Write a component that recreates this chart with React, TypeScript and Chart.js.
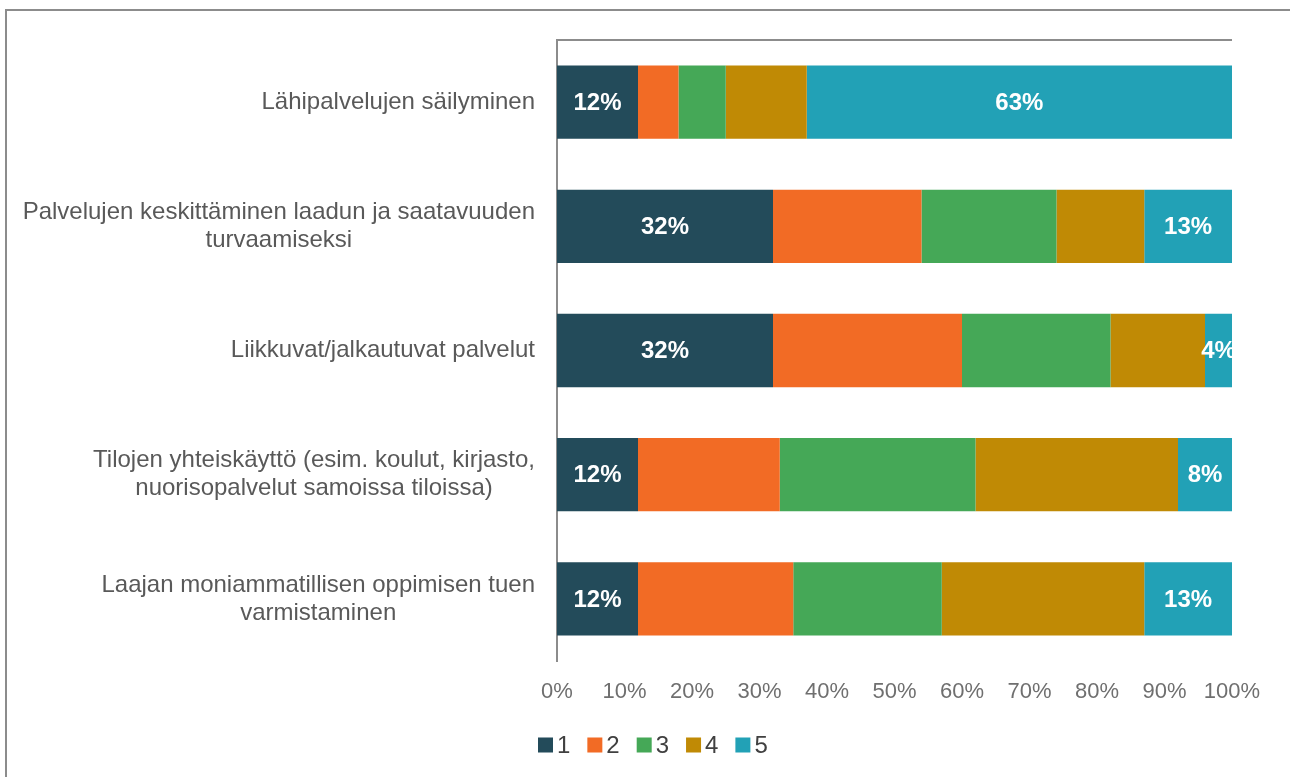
import React, { useEffect, useRef } from "react";
import { Chart, registerables } from "chart.js";

Chart.register(...registerables);

const categories: string[][] = [
  ["Lähipalvelujen säilyminen"],
  ["Palvelujen keskittäminen laadun ja saatavuuden", "turvaamiseksi"],
  ["Liikkuvat/jalkautuvat palvelut"],
  ["Tilojen yhteiskäyttö (esim. koulut, kirjasto,", "nuorisopalvelut samoissa tiloissa)"],
  ["Laajan moniammatillisen oppimisen tuen", "varmistaminen"],
];

const seriesNames = ["1", "2", "3", "4", "5"];
const s1 = [12, 32, 32, 12, 12];
const s2 = [6, 22, 28, 21, 23];
const s3 = [7, 20, 22, 29, 22];
const s4 = [12, 13, 14, 30, 30];
const s5 = [63, 13, 4, 8, 13];
const colors = ["#234B5A", "#F26B25", "#45A857", "#C08A05", "#22A1B6"];
const labelledSeries = [0, 4];
const tickLabels = ["0%", "10%", "20%", "30%", "40%", "50%", "60%", "70%", "80%", "90%", "100%"];

const FONT = "'Liberation Sans', Arial, sans-serif";

const customPlugin = {
  id: "custom",
  afterDraw(chart: any) {
    const ctx = chart.ctx;
    const area = chart.chartArea;
    ctx.save();
    // top line of plot area
    ctx.strokeStyle = "#8c8c8c";
    ctx.lineWidth = 2;
    ctx.beginPath();
    ctx.moveTo(area.left, area.top);
    ctx.lineTo(area.right, area.top);
    ctx.stroke();

    // data labels
    ctx.font = `bold 24px ${FONT}`;
    ctx.fillStyle = "#ffffff";
    ctx.textAlign = "center";
    ctx.textBaseline = "middle";
    labelledSeries.forEach((di) => {
      const meta = chart.getDatasetMeta(di);
      meta.data.forEach((el: any, i: number) => {
        const v = chart.data.datasets[di].data[i];
        const cx = (el.x + el.base) / 2;
        ctx.fillText(v + "%", cx, el.y + 1);
      });
    });

    // category labels
    ctx.font = `24px ${FONT}`;
    ctx.fillStyle = "#595959";
    const yScale = chart.scales.y;
    const rightEdge = area.left - 22;
    categories.forEach((lines, i) => {
      const cy = yScale.getPixelForValue(i);
      const widths = lines.map((l) => ctx.measureText(l).width);
      const maxW = Math.max(...widths);
      const cx = rightEdge - maxW / 2;
      const lh = 28;
      const startY = cy - ((lines.length - 1) * lh) / 2;
      lines.forEach((l, j) => ctx.fillText(l, cx, startY + j * lh));
    });

    // legend
    ctx.font = `24px ${FONT}`;
    ctx.textAlign = "left";
    let x = 538;
    const ly = 745;
    seriesNames.forEach((n, i) => {
      ctx.fillStyle = colors[i];
      ctx.fillRect(x, ly - 7.5, 15, 15);
      ctx.fillStyle = "#404040";
      ctx.fillText(n, x + 19, ly + 1);
      x += 15 + 4 + ctx.measureText(n).width + 17;
    });
    ctx.restore();
  },
};

export default function App() {
  const ref = useRef<HTMLCanvasElement>(null);
  useEffect(() => {
    if (!ref.current) return;
    const all = [s1, s2, s3, s4, s5];
    const chart = new Chart(ref.current, {
      type: "bar",
      data: {
        labels: categories.map((c) => c.join(" ")),
        datasets: all.map((d, i) => ({
          label: seriesNames[i],
          data: d,
          backgroundColor: colors[i],
          borderWidth: 0,
          barPercentage: 0.59,
          categoryPercentage: 1,
        })),
      },
      options: {
        indexAxis: "y",
        animation: false,
        responsive: false,
        maintainAspectRatio: false,
        layout: { padding: { left: 557, right: 58, top: 40, bottom: 0 } },
        plugins: { legend: { display: false }, tooltip: { enabled: false } },
        scales: {
          x: {
            stacked: true,
            min: 0,
            max: 100,
            grid: { display: false },
            border: { display: false },
            ticks: {
              stepSize: 10,
              padding: 10,
              color: "#6f6f6f",
              font: { family: FONT, size: 22 },
              callback: (_v: any, i: number) => tickLabels[i],
            },
            afterFit: (s: any) => {
              s.height = 116;
            },
          },
          y: {
            stacked: true,
            grid: { display: false },
            border: { display: true, color: "#8c8c8c", width: 2 },
            ticks: { display: false },
            afterFit: (s: any) => {
              s.width = 0;
            },
          },
        },
      },
      plugins: [customPlugin],
    });
    return () => chart.destroy();
  }, []);
  return (
    <div style={{ position: "fixed", left: 0, top: 0, width: 1290, height: 777, overflow: "hidden", background: "#fff" }}>
      <div
        style={{
          position: "absolute",
          left: 5,
          top: 9,
          width: 1400,
          height: 900,
          border: "2px solid #8c8c8c",
        }}
      />
      <canvas ref={ref} width={1290} height={777} style={{ position: "absolute", left: 0, top: 0 }} />
    </div>
  );
}
